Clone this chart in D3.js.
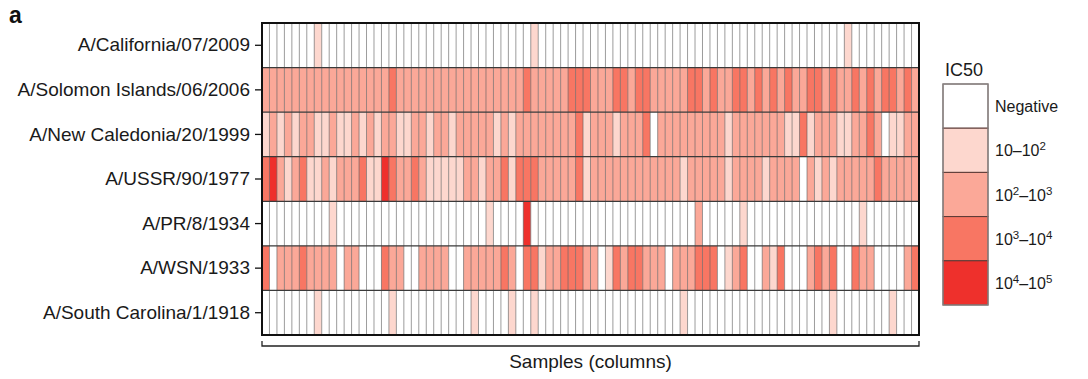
<!DOCTYPE html>
<html>
<head>
<meta charset="utf-8">
<script src="https://cdn.jsdelivr.net/npm/d3@7"></script>
<style>
  html, body { margin: 0; padding: 0; background: #fff; }
  svg { display: block; font-family: "Liberation Sans", Arial, Helvetica, sans-serif; }
</style>
</head>
<body>
<svg id="chart" width="1088" height="379"></svg>
<script>
// ---- Data (IC50 level per sample: 0 = Negative, 1 = 10–10², 2 = 10²–10³, 3 = 10³–10⁴, 4 = 10⁴–10⁵)
const strains = [
  "A/California/07/2009",
  "A/Solomon Islands/06/2006",
  "A/New Caledonia/20/1999",
  "A/USSR/90/1977",
  "A/PR/8/1934",
  "A/WSN/1933",
  "A/South Carolina/1/1918"
];

const california2009 = [
  0,0,0,0,0,0,0,1,0,0, 0,0,0,0,0,0,0,0,0,0, 0,0,0,0,0,0,0,0,0,0,
  0,0,0,0,0,0,1,0,0,0, 0,0,0,0,0,0,0,0,0,0, 0,0,0,0,0,0,0,0,0,0,
  0,0,0,0,0,0,0,0,0,0, 0,0,0,0,0,0,0,0,1,0, 0,0,0,0,0,0,0,0
];
const solomon2006 = [
  2,2,2,2,2,2,2,2,2,2, 2,2,2,2,2,2,2,3,2,2, 2,2,2,2,2,2,2,2,2,2,
  2,2,2,2,2,3,2,2,2,2, 2,3,3,3,2,2,2,3,3,2, 3,3,2,2,2,2,2,3,3,2,
  3,2,2,3,3,2,3,2,3,2, 3,2,2,3,3,2,3,2,2,3, 2,3,2,3,3,2,3,2
];
const newCaledonia1999 = [
  1,2,1,2,1,2,2,1,1,2, 1,1,2,1,2,1,2,2,1,1, 2,2,1,2,2,1,2,2,2,2,
  2,1,2,1,2,2,2,2,2,2, 2,2,3,1,2,2,2,1,2,2, 2,3,0,2,2,2,2,2,2,2,
  2,2,1,2,2,2,2,2,2,2, 1,1,3,1,2,2,2,1,1,2, 2,3,2,0,1,1,2,2
];
const ussr1977 = [
  3,4,2,1,2,3,1,1,2,1, 2,2,2,3,1,1,4,3,2,2, 3,2,1,1,1,1,1,2,2,1,
  2,2,3,1,3,3,3,2,2,2, 2,2,3,1,2,2,2,2,2,2, 2,2,2,2,2,2,1,2,2,2,
  2,2,1,2,2,2,2,1,2,2, 2,2,0,2,1,2,1,2,2,2, 2,2,3,2,2,2,2,2
];
const pr8_1934 = [
  0,0,0,0,0,0,0,0,0,1, 0,0,0,0,0,0,0,0,0,0, 0,0,0,0,0,0,0,0,0,0,
  1,0,0,0,0,4,0,0,0,0, 0,0,0,0,0,0,0,0,0,0, 0,0,0,0,0,0,0,0,2,0,
  0,0,0,0,1,0,0,0,0,0, 0,0,0,0,0,0,0,0,0,0, 1,0,0,0,0,0,0,0
];
const wsn1933 = [
  3,0,2,2,2,3,2,2,2,2, 0,2,2,0,0,0,3,2,2,0, 0,2,2,2,2,0,0,2,2,2,
  2,2,3,2,0,3,3,1,2,2, 3,3,3,2,2,0,1,3,2,3, 3,2,2,2,0,2,2,2,3,3,
  3,0,1,2,3,0,0,2,1,3, 0,0,0,2,3,2,3,0,0,3, 2,2,0,0,0,0,2,3
];
const southCarolina1918 = [
  0,0,0,0,0,0,0,1,0,0, 0,0,0,0,0,0,0,1,0,0, 0,0,0,0,0,0,0,0,1,0,
  0,0,0,1,0,0,1,0,0,0, 0,0,0,0,0,0,0,0,0,0, 0,0,0,0,0,0,1,0,0,0,
  0,0,0,0,0,0,0,0,0,0, 0,0,0,0,0,0,1,0,0,0, 0,0,0,0,1,0,0,0
];
const seriesValues = [california2009, solomon2006, newCaledonia1999, ussr1977, pr8_1934, wsn1933, southCarolina1918];

const levelColors = ["#ffffff", "#fdd7ce", "#fba898", "#f87663", "#ee302c"];
const legendLabels = [
  [["Negative", false]],
  [["10–10", false], ["2", true]],
  [["10", false], ["2", true], ["–10", false], ["3", true]],
  [["10", false], ["3", true], ["–10", false], ["4", true]],
  [["10", false], ["4", true], ["–10", false], ["5", true]]
];

// ---- Drawing
const svg = d3.select("#chart");
const nCols = seriesValues[0].length;
const samples = d3.range(nCols);

const x = d3.scaleBand().domain(samples).range([262, 919]).padding(0);
const y = d3.scaleBand().domain(strains).range([23, 335]).padding(0);
const color = d3.scaleOrdinal().domain(d3.range(levelColors.length)).range(levelColors);

const cells = [];
strains.forEach((s, r) => seriesValues[r].forEach((v, c) => cells.push({ s, c, v })));

svg.append("g").selectAll("rect").data(cells).join("rect")
  .attr("x", d => x(d.c))
  .attr("y", d => y(d.s))
  .attr("width", x.bandwidth())
  .attr("height", y.bandwidth())
  .attr("fill", d => color(d.v));

// vertical grid lines
svg.append("g").selectAll("line").data(samples.slice(1)).join("line")
  .attr("x1", d => x(d)).attr("x2", d => x(d))
  .attr("y1", y.range()[0]).attr("y2", y.range()[1])
  .attr("stroke", "#5a5a5a").attr("stroke-opacity", 0.6).attr("stroke-width", 1);

// horizontal row lines
svg.append("g").selectAll("line").data(strains.slice(1)).join("line")
  .attr("x1", x.range()[0]).attr("x2", x.range()[1])
  .attr("y1", d => y(d)).attr("y2", d => y(d))
  .attr("stroke", "#3a3a3a").attr("stroke-width", 1.2);

// outer border
svg.append("rect")
  .attr("x", x.range()[0]).attr("y", y.range()[0])
  .attr("width", x.range()[1] - x.range()[0])
  .attr("height", y.range()[1] - y.range()[0])
  .attr("fill", "none").attr("stroke", "#111").attr("stroke-width", 2);

// y axis
const yAxis = svg.append("g")
  .attr("transform", `translate(${x.range()[0] - 1},0)`)
  .call(d3.axisLeft(y).tickSize(6).tickPadding(5));
yAxis.select(".domain").remove();
yAxis.selectAll(".tick line").attr("stroke", "#111").attr("stroke-width", 1.3);
yAxis.selectAll(".tick text")
  .attr("font-size", 19).attr("fill", "#1a1a1a")
  .attr("font-family", "'Liberation Sans', Arial, sans-serif");

// panel letter
svg.append("text").attr("x", 9).attr("y", 23)
  .attr("font-size", 23).attr("font-weight", "bold").attr("fill", "#111").text("a");

// bottom bracket
const bx0 = x.range()[0], bx1 = x.range()[1], by = 346;
svg.append("path")
  .attr("d", `M${bx0},${by - 5}V${by}H${bx1}V${by - 5}`)
  .attr("fill", "none").attr("stroke", "#222").attr("stroke-width", 1.3);
svg.append("text")
  .attr("x", (bx0 + bx1) / 2).attr("y", 368)
  .attr("text-anchor", "middle").attr("font-size", 19).attr("fill", "#1a1a1a")
  .text("Samples (columns)");

// legend
const legX = 943, legY = 84, legW = 45, legH = 44.2;
svg.append("text").attr("x", legX + 2).attr("y", 76)
  .attr("font-size", 18).attr("fill", "#1a1a1a").text("IC50");
const leg = svg.append("g");
levelColors.forEach((c, i) => {
  leg.append("rect")
    .attr("x", legX).attr("y", legY + i * legH)
    .attr("width", legW).attr("height", legH)
    .attr("fill", c).attr("stroke", "#5a3a36").attr("stroke-width", 1);
  const t = leg.append("text")
    .attr("x", legX + legW + 7).attr("y", legY + i * legH + legH / 2 + 6)
    .attr("font-size", 16).attr("fill", "#1a1a1a");
  let raised = false;
  legendLabels[i].forEach(([str, sup]) => {
    const ts = t.append("tspan").text(str);
    if (sup && !raised) { ts.attr("dy", -6).attr("font-size", 11.5); raised = true; }
    else if (sup && raised) { ts.attr("font-size", 11.5); }
    else if (!sup && raised) { ts.attr("dy", 6); raised = false; }
  });
});
leg.append("rect")
  .attr("x", legX).attr("y", legY)
  .attr("width", legW).attr("height", legH * levelColors.length)
  .attr("fill", "none").attr("stroke", "#8a8a8a").attr("stroke-width", 1.2);
</script>
</body>
</html>
